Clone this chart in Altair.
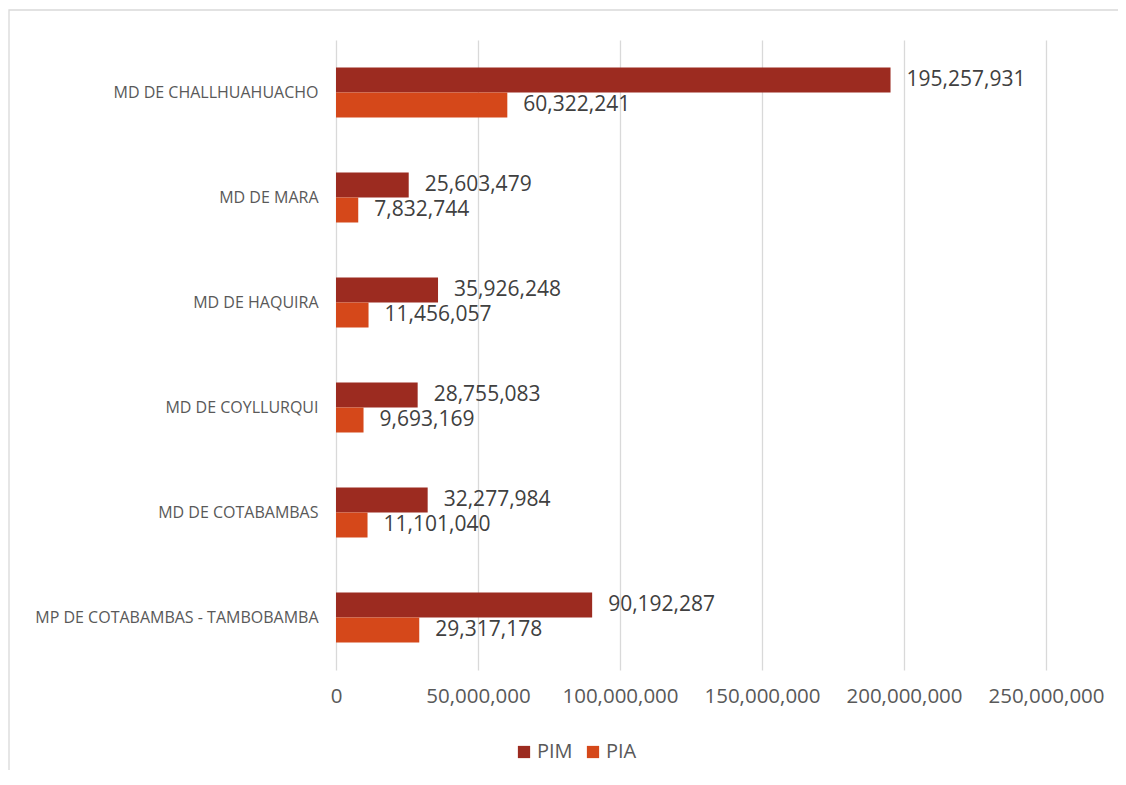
import altair as alt
import pandas as pd

categories = [
    "MD DE CHALLHUAHUACHO",
    "MD DE MARA",
    "MD DE HAQUIRA",
    "MD DE COYLLURQUI",
    "MD DE COTABAMBAS",
    "MP DE COTABAMBAS - TAMBOBAMBA",
]
pim = [195257931, 25603479, 35926248, 28755083, 32277984, 90192287]
pia = [60322241, 7832744, 11456057, 9693169, 11101040, 29317178]
series = ["PIM", "PIA"]
colors = ["#9C2B20", "#D5481A"]
x_ticks = [0, 50000000, 100000000, 150000000, 200000000, 250000000]

rows = []
for c, a, b in zip(categories, pim, pia):
    rows.append({"cat": c, "serie": "PIM", "val": a})
    rows.append({"cat": c, "serie": "PIA", "val": b})
df = pd.DataFrame(rows)

FONT = "Open Sans"

y_enc = alt.Y("cat:N", sort=categories, title=None,
              scale=alt.Scale(paddingInner=0.5238, paddingOuter=0.2619),
              axis=alt.Axis(ticks=False, domain=False, labelFontSize=16,
                            labelColor="#595959", labelFont=FONT, labelPadding=18,
                            labelLimit=400))
yoff = alt.YOffset("serie:N", sort=series, scale=alt.Scale(paddingInner=0, paddingOuter=0))
x_enc = alt.X("val:Q", title=None,
              scale=alt.Scale(domain=[0, 250000000], nice=False),
              axis=alt.Axis(values=x_ticks, format=",.0f", ticks=False, domain=False,
                            grid=True, gridColor="#D9D9D9", gridWidth=1.3,
                            labelFontSize=20.5, labelColor="#595959", labelFont=FONT,
                            labelPadding=16, labelOverlap=False, labelFlush=False))

bars = alt.Chart(df).mark_bar().encode(
    y=y_enc,
    yOffset=yoff,
    x=x_enc,
    color=alt.Color("serie:N", sort=series,
                    scale=alt.Scale(domain=series, range=colors),
                    legend=alt.Legend(title=None, orient="none", direction="horizontal",
                                      legendX=178, legendY=702, symbolType="square",
                                      symbolSize=150, symbolStrokeWidth=0,
                                      labelFontSize=20, labelColor="#595959",
                                      labelFont=FONT, columnPadding=10, labelOffset=3)),
)

labels = alt.Chart(df).mark_text(align="left", baseline="middle", dx=16,
                                 fontSize=21, font=FONT, color="#404040").encode(
    y=alt.Y("cat:N", sort=categories),
    yOffset=yoff,
    x="val:Q",
    text=alt.Text("val:Q", format=",.0f"),
)

frame = alt.Chart(pd.DataFrame({"a": [0]})).mark_rect(
    fill=None, stroke="#D9D9D9", strokeWidth=1.3).encode(
    x=alt.value(-327), x2=alt.value(900), y=alt.value(-30), y2=alt.value(900))

chart = alt.layer(frame, bars, labels).properties(
    width=710, height=630,
    padding={"left": 328, "top": 32, "right": 72, "bottom": 100},
    autosize=alt.AutoSizeParams(type="none"),
).configure_view(stroke=None).configure_axis(gridColor="#D9D9D9")

chart.save("out.html", embed_options={"renderer": "svg", "actions": False})
